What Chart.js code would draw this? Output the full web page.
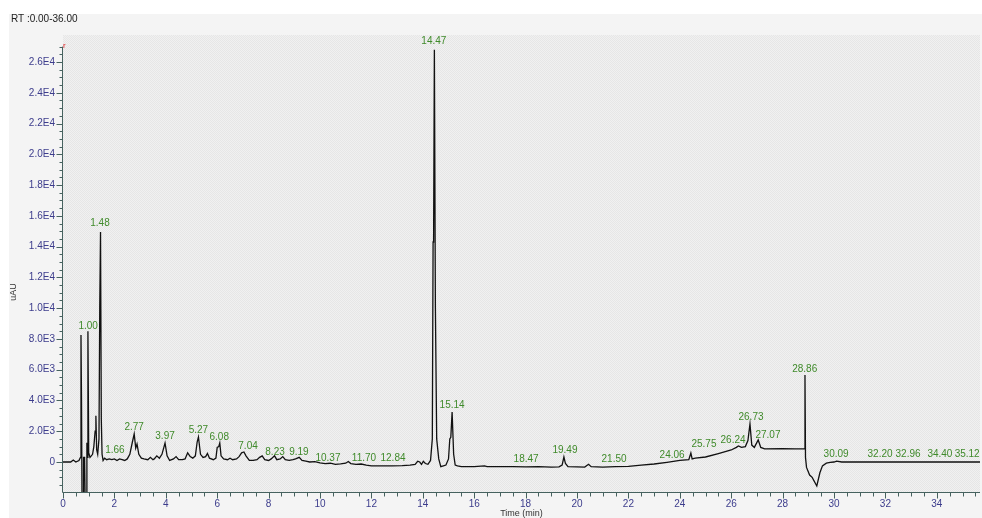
<!DOCTYPE html>
<html>
<head>
<meta charset="utf-8">
<script src="https://cdn.jsdelivr.net/npm/chart.js@4/dist/chart.umd.min.js"></script>
<style>
  body { margin: 0; background: #fff; }
  canvas { display: block; }
</style>
</head>
<body>
<canvas id="chrom-chart" width="982" height="518"></canvas>
<script>
// Retention time (min) and detector response (uAU)
const retentionTimes = [
  0.00, 0.30, 0.40, 0.50, 0.62, 0.68, 0.70, 0.72, 0.74, 0.78, 0.80, 0.84, 0.86, 0.90, 0.93, 0.95,
  0.97, 1.00, 1.05, 1.10, 1.15, 1.20, 1.25, 1.28, 1.31, 1.35, 1.40, 1.43, 1.46, 1.49, 1.52, 1.56,
  1.62, 1.70, 1.80, 1.90, 2.00, 2.10, 2.20, 2.30, 2.40, 2.50, 2.60, 2.70, 2.77, 2.83, 2.88, 2.95,
  3.05, 3.15, 3.30, 3.40, 3.50, 3.55, 3.65, 3.75, 3.85, 3.97, 4.05, 4.15, 4.30, 4.40, 4.50, 4.65,
  4.75, 4.85, 4.95, 5.05, 5.15, 5.22, 5.27, 5.35, 5.45, 5.55, 5.62, 5.70, 5.85, 5.95, 6.00, 6.06,
  6.10, 6.15, 6.25, 6.40, 6.50, 6.60, 6.75, 6.85, 6.95, 7.04, 7.12, 7.25, 7.40, 7.55, 7.65, 7.75,
  7.85, 8.00, 8.10, 8.23, 8.32, 8.45, 8.55, 8.65, 8.80, 8.95, 9.05, 9.19, 9.30, 9.45, 9.60, 9.80,
  10.00, 10.20, 10.40, 10.60, 10.80, 11.00, 11.10, 11.20, 11.40, 11.60, 11.80, 12.00, 12.40, 12.80,
  13.20, 13.50, 13.70, 13.80, 13.88, 13.95, 14.02, 14.10, 14.20, 14.30, 14.37, 14.40, 14.42, 14.45,
  14.49, 14.54, 14.62, 14.70, 14.80, 14.90, 15.00, 15.05, 15.09, 15.14, 15.20, 15.26, 15.35, 15.50,
  16.00, 16.40, 16.50, 17.00, 17.50, 18.00, 18.50, 19.00, 19.30, 19.42, 19.49, 19.55, 19.65, 20.00,
  20.30, 20.45, 20.55, 21.00, 21.50, 22.00, 22.50, 23.00, 23.50, 24.00, 24.35, 24.43, 24.48, 24.60,
  25.00, 25.50, 26.00, 26.20, 26.28, 26.40, 26.55, 26.65, 26.73, 26.80, 26.90, 27.05, 27.15, 27.30,
  28.00, 28.50, 28.85, 28.87, 28.89, 28.93, 29.05, 29.15, 29.33, 29.45, 29.55, 29.70, 29.85, 30.00,
  30.10, 30.30, 31.00, 32.00, 33.00, 34.00, 35.00, 35.68
];
const intensities = [
  0, 0, 130, 0, 100, 300, 8250, 4000, -2300, -2300, 300, 300, -2300, -2300, 1250, 300,
  8500, 600, 300, 400, 500, 1000, 2000, 3000, 800, 500, 1500, 10000, 14950, 2800, 500, 100,
  250, 150, 200, 150, 200, 100, 200, 150, 100, 200, 500, 1300, 1820, 900, 1170, 500,
  250, 200, 150, 300, 150, 200, 400, 250, 500, 1235, 400, 100, 200, 350, 150, 150,
  200, 600, 350, 250, 400, 1300, 1625, 500, 300, 350, 550, 250, 150, 250, 950, 1000,
  1235, 400, 200, 150, 250, 150, 200, 350, 600, 650, 400, 100, 100, 150, 300, 400,
  150, 100, 200, 400, 150, 200, 350, 150, 100, 150, 200, 300, 100, 50, 0, 20,
  -50, -100, -80, -150, -120, -80, 30, -100, -150, -130, -200, -250, -250, -250,
  -230, -200, -150, 50, 0, -150, 50, -100, -150, 100, 1500, 14300, 14500, 26800,
  10000, 1500, 200, -300, -250, -200, 200, 1500, 1600, 3250, 500, -200, -250, -300,
  -300, -250, -300, -300, -300, -320, -300, -330, -320, -200, 325, -100, -300, -320,
  -330, -150, -300, -330, -300, -280, -200, -130, -20, 100, 150, 585, 200, 250,
  325, 550, 780, 950, 1040, 950, 1000, 1400, 2470, 1100, 950, 1430, 950, 850,
  860, 850, 850, 5655, 300, -350, -850, -1000, -1560, -700, -250, -80, -30, 0,
  60, 0, 0, 0, 0, 0, 0, 0
];

// Peak annotations: text, where the software placed it (min) and the response it sits on
const peakLabels = ["1.00", "1.48", "1.66", "2.77", "3.97", "5.27", "6.08", "7.04", "8.23", "9.19",
  "10.37", "11.70", "12.84", "14.47", "15.14", "18.47", "19.49", "21.50", "24.06", "25.75",
  "26.24", "26.73", "27.07", "28.86", "30.09", "32.20", "32.96", "34.40", "35.12"];
const labelTimes = [0.98, 1.44, 2.02, 2.77, 3.97, 5.27, 6.08, 7.20, 8.25, 9.18,
  10.31, 11.71, 12.84, 14.43, 15.14, 18.02, 19.53, 21.44, 23.70, 24.94,
  26.07, 26.77, 27.43, 28.86, 30.08, 31.79, 32.88, 34.12, 35.18];
const labelHeights = [8450, 15145, 390, 1885, 1300, 1690, 1235, 650, 260, 260,
  -130, -130, -130, 26975, 3315, -195, 390, -195, 65, 780,
  1040, 2535, 1365, 5655, 130, 130, 130, 130, 130];

const xTickValues = [0, 2, 4, 6, 8, 10, 12, 14, 16, 18, 20, 22, 24, 26, 28, 30, 32, 34];
const yTickValues = [0, 2000, 4000, 6000, 8000, 10000, 12000, 14000, 16000, 18000, 20000, 22000, 24000, 26000];
const yTickLabels = ["0", "2.0E3", "4.0E3", "6.0E3", "8.0E3", "1.0E4", "1.2E4", "1.4E4",
  "1.6E4", "1.8E4", "2.0E4", "2.2E4", "2.4E4", "2.6E4"];

const axisColor = "#46625f";
const font = "Liberation Sans, Arial, sans-serif";

function makeDots() {
  const c = document.createElement("canvas");
  c.width = 2;
  c.height = 2;
  const g = c.getContext("2d");
  g.fillStyle = "#f1f1f1";
  g.fillRect(0, 0, 2, 2);
  g.fillStyle = "#e6e6e6";
  g.fillRect(0, 0, 1, 1);
  g.fillRect(1, 1, 1, 1);
  return c;
}

const chromPlugin = {
  id: "chrom",
  beforeDraw(chart) {
    const { ctx, chartArea: a, width, height } = chart;
    ctx.save();
    ctx.fillStyle = "#ffffff";
    ctx.fillRect(0, 0, width, height);
    ctx.fillStyle = "#f4f4f4";
    ctx.fillRect(9, 14, width - 9, height - 14);
    ctx.fillStyle = ctx.createPattern(makeDots(), "repeat");
    ctx.fillRect(a.left, a.top, a.right - a.left, a.bottom - a.top);
    ctx.fillStyle = "#222";
    ctx.font = "10px " + font;
    ctx.textBaseline = "middle";
    ctx.fillText("RT :0.00-36.00", 11, 19);
    ctx.restore();
  },
  afterDatasetsDraw(chart) {
    const { ctx } = chart;
    const xs = chart.scales.x;
    const ys = chart.scales.y;
    ctx.save();
    ctx.fillStyle = "#3f8a2a";
    ctx.font = "10px " + font;
    ctx.textAlign = "center";
    ctx.textBaseline = "bottom";
    peakLabels.forEach((lbl, i) => {
      const px = xs.getPixelForValue(labelTimes[i]);
      const py = ys.getPixelForValue(labelHeights[i]);
      ctx.fillText(lbl, px, py - 1);
    });
    ctx.restore();
  },
  afterDraw(chart) {
    const { ctx, chartArea: a } = chart;
    const xs = chart.scales.x;
    const ys = chart.scales.y;
    ctx.save();
    ctx.strokeStyle = axisColor;
    ctx.lineWidth = 1;
    ctx.beginPath();
    ctx.moveTo(a.left - 0.5, ys.getPixelForValue(27000));
    ctx.lineTo(a.left - 0.5, a.bottom + 0.5);
    ctx.lineTo(a.right, a.bottom + 0.5);
    // y minor/major ticks
    for (let v = -1500; v <= 27000; v += 500) {
      const py = Math.round(ys.getPixelForValue(v)) + 0.5;
      const len = v % 2000 === 0 ? 6 : 3;
      ctx.moveTo(a.left - 0.5 - len, py);
      ctx.lineTo(a.left - 0.5, py);
    }
    // x ticks every half minute
    for (let t = 0; t <= 35.5; t += 0.5) {
      const px = Math.round(xs.getPixelForValue(t)) + 0.5;
      const len = t % 2 === 0 ? 6 : 4;
      ctx.moveTo(px, a.bottom + 0.5);
      ctx.lineTo(px, a.bottom + 0.5 + len);
    }
    ctx.stroke();

    ctx.fillStyle = "#e02020";
    ctx.font = "8px " + font;
    ctx.fillText("r", a.left, ys.getPixelForValue(27000) + 1);

    ctx.fillStyle = "#333";
    ctx.font = "9px " + font;
    ctx.textAlign = "center";
    ctx.textBaseline = "middle";
    ctx.fillText("Time (min)", (a.left + a.right) / 2, 514);
    ctx.translate(14, 292);
    ctx.rotate(-Math.PI / 2);
    ctx.fillText("uAU", 0, 0);
    ctx.restore();
  }
};

new Chart(document.getElementById("chrom-chart"), {
  type: "line",
  data: {
    datasets: [
      {
        data: retentionTimes.map((t, i) => ({ x: t, y: intensities[i] })),
        borderColor: "#111111",
        borderWidth: 1.3,
        pointRadius: 0,
        tension: 0,
        fill: false,
        clip: 0,
      },
    ],
  },
  options: {
    responsive: false,
    animation: false,
    events: [],
    layout: { padding: { left: 0, top: 35, right: 2, bottom: 0 } },
    plugins: { legend: { display: false }, tooltip: { enabled: false } },
    scales: {
      x: {
        type: "linear",
        min: 0,
        max: 35.68,
        afterFit(scale) {
          scale.height = 26;
        },
        afterBuildTicks(scale) {
          scale.ticks = xTickValues.map((v) => ({ value: v }));
        },
        grid: { display: false },
        border: { display: false },
        ticks: {
          autoSkip: false,
          maxRotation: 0,
          padding: -2,
          color: "#3c3c8c",
          font: { family: font, size: 10 },
          callback: (v) => String(v),
        },
      },
      y: {
        min: -1950,
        max: 27755,
        afterFit(scale) {
          scale.width = 63;
        },
        afterBuildTicks(scale) {
          scale.ticks = yTickValues.map((v) => ({ value: v }));
        },
        grid: { display: false },
        border: { display: false },
        ticks: {
          autoSkip: false,
          padding: 0,
          color: "#3c3c8c",
          font: { family: font, size: 10 },
          callback: (v, i) => yTickLabels[i],
        },
      },
    },
  },
  plugins: [chromPlugin],
});
</script>
</body>
</html>
